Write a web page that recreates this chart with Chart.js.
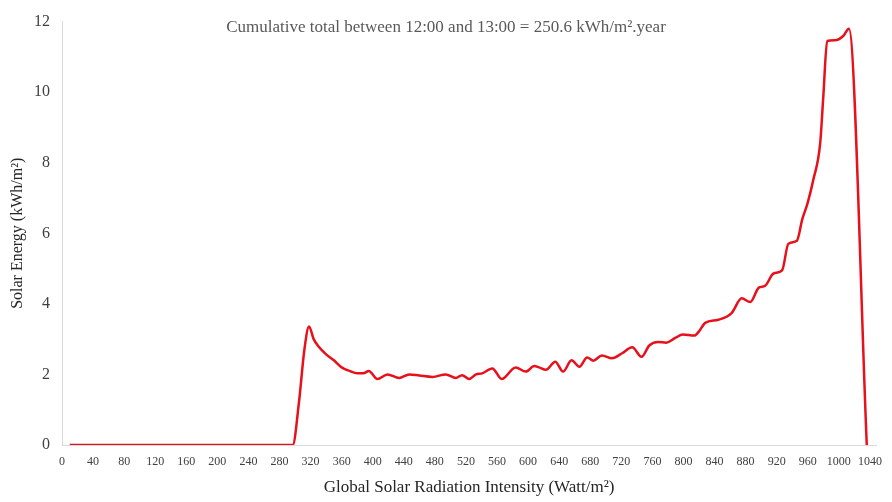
<!DOCTYPE html>
<html lang="en">
<head>
  <meta charset="UTF-8">
  <title>Solar Energy vs Radiation Intensity</title>
  <script src="https://cdn.jsdelivr.net/npm/chart.js"></script>
  <style>
    html, body { margin: 0; padding: 0; background: #fff; }
    #wrap { width: 892px; height: 502px; }
  </style>
</head>
<body>
  <div id="wrap"><canvas id="energyChart" width="892" height="502"></canvas></div>

  <script>
    // Global solar radiation intensity (Watt/m2) and the energy in each bin (kWh/m2)
    const irradiance = [
      10, 20, 30, 40, 50, 60, 70, 80, 90, 100, 110, 120, 130, 140, 150, 160, 170, 180, 190, 200,
      210, 220, 230, 240, 250, 260, 270, 280, 290, 297, 305, 312, 318, 324, 330, 340, 350, 360,
      370, 380, 388, 395, 406, 419, 434, 447, 460, 477, 494, 507, 515, 524, 533, 541, 554, 566,
      584, 597, 608, 614, 623, 635, 645, 656, 666, 676, 684, 695, 708, 721, 734, 746, 756, 767,
      778, 790, 799, 814, 820, 828, 845, 862, 875, 886, 897, 905, 916, 927, 935, 946, 953, 960,
      967, 976, 980, 985, 995, 1006, 1013, 1036
    ];
    const energy = [
      0, 0, 0, 0, 0, 0, 0, 0, 0, 0, 0, 0, 0, 0, 0, 0, 0, 0, 0, 0,
      0, 0, 0, 0, 0, 0, 0, 0, 0, 0, 1.2, 2.7, 3.36, 3.0, 2.8, 2.57, 2.4, 2.2,
      2.1, 2.03, 2.03, 2.1, 1.87, 2.0, 1.9, 2.0, 1.97, 1.93, 2.0, 1.9, 1.98, 1.87, 2.0, 2.03, 2.17, 1.87,
      2.2, 2.08, 2.24, 2.2, 2.13, 2.36, 2.08, 2.4, 2.22, 2.48, 2.39, 2.54, 2.46, 2.6, 2.77, 2.5, 2.82, 2.92,
      2.9, 3.04, 3.13, 3.1, 3.22, 3.46, 3.55, 3.74, 4.16, 4.05, 4.46, 4.51, 4.86, 4.95, 5.7, 5.79, 6.4, 6.87,
      7.5, 8.55, 9.86, 11.45, 11.47, 11.6, 11.8, 0
    ];
    const noteText = 'Cumulative total between 12:00 and 13:00 = 250.6 kWh/m\u00B2.year';
    const xTitle = 'Global Solar Radiation Intensity (Watt/m\u00B2)';
    const yTitle = 'Solar Energy (kWh/m\u00B2)';

    const points = irradiance.map((x, i) => ({ x: x, y: energy[i] }));
    const serif = '"Liberation Serif", "Times New Roman", serif';

    // draws the cumulative total note at the top of the plot
    const notePlugin = {
      id: 'note',
      afterDraw(chart) {
        const ctx = chart.ctx;
        const area = chart.chartArea;
        ctx.save();
        ctx.font = '17px ' + serif;
        ctx.fillStyle = '#595959';
        ctx.textAlign = 'center';
        ctx.textBaseline = 'middle';
        ctx.fillText(noteText, 446, area.top + 6);
        ctx.restore();
      }
    };

    const ctx = document.getElementById('energyChart').getContext('2d');
    new Chart(ctx, {
      type: 'line',
      data: {
        datasets: [{
          data: points,
          borderColor: '#e8101a',
          borderWidth: 2.5,
          pointRadius: 0,
          fill: false,
          cubicInterpolationMode: 'monotone'
        }]
      },
      options: {
        responsive: false,
        animation: false,
        layout: { padding: { left: 0, right: 15, top: 17, bottom: 0 } },
        plugins: {
          legend: { display: false },
          tooltip: { enabled: false }
        },
        scales: {
          x: {
            type: 'linear',
            min: 0,
            max: 1048,
            grid: { display: false, drawTicks: false },
            border: { color: '#d9d9d9', width: 1 },
            ticks: {
              stepSize: 40,
              includeBounds: false,
              autoSkip: false,
              maxRotation: 0,
              minRotation: 0,
              padding: 10,
              color: '#404040',
              font: { family: serif, size: 12 },
              callback: (v) => String(v)
            },
            title: {
              display: true,
              text: xTitle,
              color: '#262626',
              padding: { top: 0, bottom: 4 },
              font: { family: serif, size: 17 }
            },
            afterFit(scale) { scale.height = 57; }
          },
          y: {
            min: 0,
            max: 12,
            grid: { display: false, drawTicks: false },
            border: { color: '#d9d9d9', width: 1 },
            ticks: {
              stepSize: 2,
              padding: 12,
              color: '#404040',
              font: { family: serif, size: 16 }
            },
            title: {
              display: true,
              text: yTitle,
              color: '#262626',
              padding: { top: 8, bottom: 0 },
              font: { family: serif, size: 16 }
            },
            afterFit(scale) { scale.width = 62; }
          }
        }
      },
      plugins: [notePlugin]
    });
  </script>
</body>
</html>
